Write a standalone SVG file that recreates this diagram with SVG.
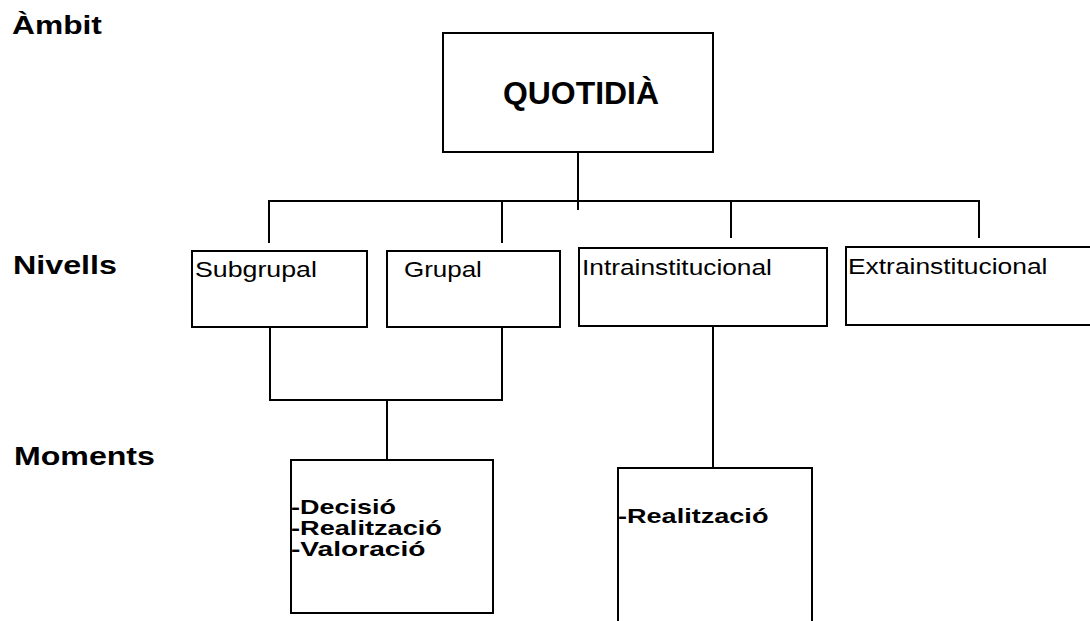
<svg xmlns="http://www.w3.org/2000/svg" width="1090" height="621" viewBox="0 0 1090 621">
<style>
.box{fill:none;stroke:#000;stroke-width:2}
.ln{fill:none;stroke:#000;stroke-width:2}
.lbl{font-family:"Liberation Sans",Arial,sans-serif;font-weight:bold;font-size:25px;fill:#000}
.big{font-family:"Liberation Sans",Arial,sans-serif;font-weight:bold;font-size:31px;fill:#000}
.lv{font-family:"Liberation Sans",Arial,sans-serif;font-size:22px;fill:#000}
.mo{font-family:"Liberation Sans",Arial,sans-serif;font-weight:bold;font-size:21px;fill:#000}
</style>
<rect width="1090" height="621" fill="#fff"/>
<g id="labels">
<text class="lbl" transform="translate(12,34) scale(1.27,1)">Àmbit</text>
<text class="lbl" transform="translate(13,274) scale(1.29,1)">Nivells</text>
<text class="lbl" transform="translate(14,465) scale(1.285,1)">Moments</text>
</g>
<g id="connectors">
<path class="ln" d="M578 152 V210"/>
<path class="ln" d="M269 243 V201 H979 V238"/>
<path class="ln" d="M502 201 V243"/>
<path class="ln" d="M731 201 V238"/>
<path class="ln" d="M270 327 V400 H502 V327"/>
<path class="ln" d="M387 400 V460"/>
<path class="ln" d="M713 326 V468"/>
</g>
<g id="quotidia">
<rect class="box" x="443" y="33" width="270" height="119"/>
<text class="big" transform="translate(503,104) scale(1.03,1)">QUOTIDIÀ</text>
</g>
<g id="subgrupal">
<rect class="box" x="192" y="251" width="175" height="76"/>
<text class="lv" transform="translate(195,277) scale(1.216,1)">Subgrupal</text>
</g>
<g id="grupal">
<rect class="box" x="387" y="251" width="173" height="76"/>
<text class="lv" transform="translate(404,277) scale(1.18,1)">Grupal</text>
</g>
<g id="intrainstitucional">
<rect class="box" x="579" y="248" width="248" height="78"/>
<text class="lv" transform="translate(582,275) scale(1.195,1)">Intrainstitucional</text>
</g>
<g id="extrainstitucional">
<rect class="box" x="846" y="247" width="260" height="78"/>
<text class="lv" transform="translate(848,274) scale(1.2,1)">Extrainstitucional</text>
</g>
<g id="moments1">
<rect class="box" x="291" y="460" width="202" height="153"/>
<text class="mo" transform="translate(291,514) scale(1.285,1)">-Decisió</text>
<text class="mo" transform="translate(291,535) scale(1.294,1)">-Realització</text>
<text class="mo" transform="translate(291,556) scale(1.34,1)">-Valoració</text>
</g>
<g id="moments2">
<path class="box" d="M618 625 V468 H812 V625"/>
<text class="mo" transform="translate(618,523) scale(1.29,1)">-Realització</text>
</g>
</svg>
